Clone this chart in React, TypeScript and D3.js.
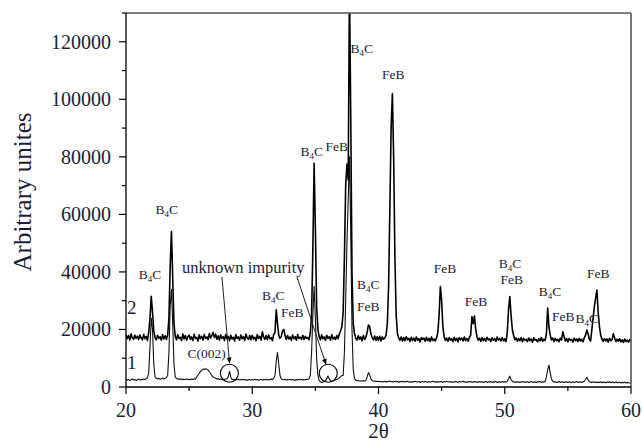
import React from "react";
import * as d3 from "d3";

// 2θ sampling of both traces
const X_START = 20;
const X_STEP = 0.1;

// Trace 2 (upper pattern), intensity in thousands, 20.0 .. 60.0 step 0.1
const curve2k: number[] = [
  18.2, 16.8, 17.9, 16.3, 18.5, 17.1, 16.6, 18.0, 16.9, 17.7,
  16.5, 18.1, 17.0, 16.4, 18.3, 16.8, 17.6, 16.2, 19.0, 24.0,
  31.5, 26.0, 19.5, 17.2, 16.4, 18.0, 16.9, 17.5, 16.3, 18.2,
  16.7, 17.8, 16.5, 18.0, 24.0, 42.0, 54.0, 38.0, 22.0, 17.6,
  16.4, 18.2, 16.9, 17.3, 16.1, 18.4, 16.7, 17.9, 16.3, 17.5,
  18.0, 16.6, 17.4, 16.2, 18.3, 16.9, 17.2, 16.0, 18.1, 16.8,
  17.6, 16.3, 18.2, 16.9, 17.4, 16.5, 18.6, 17.0, 17.9, 19.0,
  17.2, 18.4, 16.6, 17.8, 16.3, 18.1, 16.9, 17.5, 16.2, 18.3,
  16.8, 17.6, 16.1, 18.0, 16.7, 17.3, 16.0, 18.2, 16.9, 17.4,
  16.3, 18.1, 16.8, 17.5, 16.2, 18.4, 17.0, 16.6, 17.9, 16.4,
  18.0, 16.7, 17.3, 16.1, 18.2, 16.9, 17.6, 16.3, 19.2, 17.4,
  16.6, 17.9, 16.4, 18.1, 16.8, 17.2, 16.1, 18.3, 19.0, 26.8,
  22.0, 18.0, 16.9, 17.6, 19.5, 20.0, 17.8, 16.5, 17.9, 16.7,
  17.4, 16.2, 18.1, 16.8, 17.5, 16.3, 18.2, 16.9, 17.3, 16.6,
  18.0, 16.5, 17.6, 16.9, 17.2, 16.4, 19.0, 25.0, 48.0, 77.8,
  55.0, 28.0, 20.0, 17.5, 16.4, 18.1, 16.8, 17.4, 16.2, 18.0,
  16.9, 17.5, 16.3, 18.2, 16.7, 17.3, 16.5, 17.9, 16.8, 18.5,
  19.5, 21.0, 26.0, 45.0, 70.0, 77.5, 72.0, 140.0, 95.0, 40.0,
  22.0, 18.5, 17.0, 16.3, 17.8, 16.6, 17.4, 16.1, 17.9, 16.5,
  17.3, 19.0, 21.5, 21.0, 18.5, 17.2, 16.4, 17.7, 16.2, 17.5,
  16.3, 17.6, 16.0, 17.4, 16.6, 17.1, 18.0, 22.0, 35.0, 62.0,
  90.0, 102.0, 80.0, 45.0, 25.0, 18.5, 17.0, 16.2, 17.4, 16.0,
  17.2, 16.1, 17.5, 16.4, 16.9, 15.8, 17.3, 16.2, 17.0, 15.9,
  17.4, 16.3, 16.8, 15.7, 17.2, 16.5, 17.0, 15.9, 17.3, 16.1,
  16.9, 15.8, 17.4, 16.2, 16.7, 16.0, 17.1, 19.0, 25.0, 34.9,
  30.0, 21.0, 17.5, 16.2, 17.0, 15.9, 17.2, 16.3, 16.8, 15.8,
  17.3, 16.1, 16.9, 15.7, 17.2, 16.4, 17.0, 16.0, 17.4, 16.2,
  16.8, 15.9, 17.3, 18.0, 24.5, 22.0, 24.7, 20.0, 17.5, 16.3,
  17.0, 15.8, 17.2, 16.1, 16.9, 15.9, 17.3, 16.4, 16.7, 15.8,
  17.1, 16.2, 16.8, 15.9, 17.4, 16.3, 16.9, 16.0, 17.2, 16.1,
  16.7, 15.8, 19.0, 27.0, 31.4, 25.0, 20.0, 18.0, 16.4, 17.1,
  15.9, 16.8, 16.1, 17.2, 15.7, 16.9, 16.2, 16.6, 15.8, 17.0,
  16.1, 16.7, 15.6, 17.1, 16.3, 16.5, 15.7, 16.9, 16.0, 17.2,
  15.9, 16.6, 16.2, 18.5, 27.4, 21.0, 18.0, 16.4, 17.0, 15.8,
  16.9, 16.1, 16.6, 15.7, 17.0, 16.3, 19.2, 17.5, 16.0, 16.8,
  15.7, 16.9, 16.2, 16.5, 15.6, 17.0, 16.1, 16.7, 15.8, 16.9,
  16.0, 16.6, 15.7, 17.1, 18.0, 19.8, 18.5, 16.6, 16.0, 20.0,
  24.0, 28.0, 31.0, 33.7, 26.0, 21.0, 18.0, 16.6, 15.9, 16.8,
  16.0, 16.7, 15.6, 16.9, 16.1, 16.5, 18.5, 17.0, 15.8, 16.6,
  15.9, 16.8, 15.7, 16.4, 15.5, 16.7, 15.8, 16.3, 15.6, 16.5,
  15.8,
];

// Trace 1 (lower pattern), intensity in thousands, 20.0 .. 60.0 step 0.1
const curve1k: number[] = [
  2.7, 2.4, 2.6, 2.3, 2.5, 2.8, 2.4, 2.6, 2.3, 2.5,
  2.7, 2.4, 2.6, 2.5, 2.8, 2.6, 2.9, 3.2, 5.0, 14.0,
  24.0, 20.0, 8.0, 3.5, 3.0, 2.8, 3.0, 2.7, 2.9, 3.1,
  2.8, 3.0, 3.3, 4.0, 12.0, 28.0, 34.0, 22.0, 8.0, 3.5,
  3.0, 2.7, 2.9, 2.6, 2.8, 2.5, 2.7, 2.6, 2.8, 2.6,
  2.7, 2.5, 2.8, 2.6, 2.9, 2.7, 3.5, 4.1, 4.8, 5.4,
  5.8, 6.1, 6.3, 6.2, 6.2, 5.9, 5.3, 4.7, 4.0, 3.5,
  3.2, 3.0, 2.8, 2.9, 2.6, 2.8, 2.5, 2.7, 2.6, 2.8,
  2.9, 3.6, 5.5, 3.4, 2.6, 2.7, 2.4, 2.6, 2.5, 2.7,
  2.4, 2.6, 2.5, 2.7, 2.4, 2.6, 2.3, 2.5, 2.6, 2.4,
  2.6, 2.4, 2.7, 2.5, 2.6, 2.3, 2.5, 2.7, 2.4, 2.6,
  2.5, 2.7, 2.4, 2.6, 2.5, 2.8, 2.6, 3.0, 4.0, 9.0,
  12.0, 8.0, 4.0, 2.8, 2.6, 2.5, 2.7, 2.4, 2.6, 2.5,
  2.7, 2.4, 2.6, 2.5, 2.3, 2.6, 2.4, 2.7, 2.5, 2.6,
  2.4, 2.6, 2.5, 2.7, 2.6, 2.9, 4.0, 12.0, 25.0, 35.0,
  24.0, 10.0, 4.0, 2.2, 1.8, 1.6, 1.7, 1.9, 2.2, 3.0,
  3.8, 2.8, 2.2, 2.0, 2.1, 2.3, 2.5, 2.7, 2.9, 3.2,
  3.6, 4.0, 4.0, 12.0, 30.0, 50.0, 65.0, 80.0, 55.0, 20.0,
  6.0, 3.0, 2.4, 2.2, 2.3, 2.1, 2.2, 2.0, 2.2, 2.1,
  2.3, 3.5, 5.0, 4.2, 2.8, 2.2, 2.0, 2.1, 1.9, 2.0,
  1.8, 2.0, 1.7, 1.9, 1.8, 2.0, 1.7, 1.9, 1.8, 2.1,
  1.8, 1.9, 1.7, 2.0, 1.8, 1.9, 1.6, 1.9, 1.8, 2.0,
  1.7, 1.9, 1.8, 2.0, 1.7, 1.8, 1.6, 1.9, 1.7, 2.0,
  1.8, 1.7, 1.9, 1.6, 1.8, 2.0, 1.7, 1.9, 1.8, 1.6,
  1.9, 1.7, 1.8, 2.0, 1.7, 1.9, 1.6, 1.8, 1.7, 1.9,
  1.8, 1.6, 1.9, 1.7, 2.0, 1.8, 1.7, 1.9, 1.6, 1.8,
  1.7, 1.9, 1.8, 1.6, 1.9, 1.7, 1.8, 2.0, 1.7, 1.8,
  1.6, 1.8, 1.9, 1.7, 1.8, 1.6, 1.9, 1.7, 1.8, 1.6,
  1.9, 1.7, 1.8, 1.6, 1.7, 1.9, 1.6, 1.8, 1.7, 1.9,
  1.6, 1.8, 1.7, 1.9, 1.6, 1.7, 1.8, 1.6, 1.9, 1.7,
  1.8, 1.7, 2.0, 2.8, 3.8, 2.6, 2.0, 1.7, 1.8, 1.6,
  1.8, 1.7, 1.6, 1.8, 1.7, 1.9, 1.6, 1.7, 1.8, 1.6,
  1.7, 1.9, 1.6, 1.8, 1.7, 1.6, 1.8, 1.7, 1.9, 1.6,
  1.8, 1.7, 2.0, 3.5, 6.0, 7.6, 5.0, 2.8, 2.0, 1.7,
  1.8, 1.6, 1.7, 1.9, 1.6, 1.8, 1.7, 1.6, 1.8, 1.7,
  1.6, 1.8, 1.7, 1.5, 1.8, 1.6, 1.7, 1.9, 1.6, 1.8,
  1.7, 1.6, 1.8, 2.0, 2.6, 3.4, 2.5, 1.9, 1.7, 1.6,
  1.8, 1.6, 1.7, 1.5, 1.7, 1.6, 1.8, 1.5, 1.7, 1.6,
  1.5, 1.7, 1.6, 1.8, 1.5, 1.7, 1.6, 1.5, 1.7, 1.6,
  1.5, 1.7, 1.4, 1.6, 1.5, 1.7, 1.4, 1.6, 1.5, 1.4,
  1.5,
];

const yMajorTicks = [0, 20000, 40000, 60000, 80000, 100000, 120000];
const yMinorTicks = [10000, 30000, 50000, 70000, 90000, 110000, 130000];
const xMajorTicks = [20, 30, 40, 50, 60];
const xMinorTicks = [25, 35, 45, 55];

// Phase labels: [2θ, intensity, phase]
const labelTheta = [21.9, 23.22, 31.67, 33.17, 34.71, 36.69, 38.67, 41.17, 39.19, 39.19, 45.27, 47.72, 50.42, 50.55, 53.58, 54.64, 56.49, 57.41];
const labelInt = [38960, 61570, 31650, 25840, 81840, 83580, 117810, 108520, 35480, 27930, 41290, 29670, 43030, 37220, 33150, 24450, 23900, 39550];
const labelPhase = ["B4C", "B4C", "B4C", "FeB", "B4C", "FeB", "B4C", "FeB", "B4C", "FeB", "FeB", "FeB", "B4C", "FeB", "B4C", "FeB", "B4C", "FeB"];

// Curve numbers
const curveNames = ["2", "1"];
const curveNameTheta = [20.45, 20.45];
const curveNameInt = [27370, 8240];

// Annotation circles (2θ, intensity)
const circleTheta = [28.19, 36.02];
const circleInt = [4770, 4770];

// Pointer lines: from (2θ, I) to (2θ, I)
const pointerFrom = [[27.6, 38260], [33.54, 38260]];
const pointerTo = [[28.2, 8400], [35.84, 7900]];

const W = 642;
const H = 442;
const left = 126, right = 631, top = 13, bottom = 387;
const TEXT = "#1c1c38";
const FONT = '"Liberation Serif", "Times New Roman", Times, serif';

export default function App() {
  const x = d3.scaleLinear().domain([20, 60]).range([left, right]);
  const y = d3.scaleLinear().domain([0, 130000]).range([bottom, top]);

  const line = d3
    .line<number>()
    .x((_, i) => x(X_START + i * X_STEP))
    .y((d) => y(d * 1000));

  const phaseText = (p: string) =>
    p === "B4C" ? (
      <>
        B<tspan fontSize={9} dy={3}>4</tspan>
        <tspan dy={-3}>C</tspan>
      </>
    ) : (
      p
    );

  return (
    <svg width={W} height={H} style={{ position: "absolute", left: 0, top: 0, background: "#fff", fontFamily: FONT }}>
      <style>{`text { font-family: ${FONT}; }`}</style>
      <defs>
        <clipPath id="plot">
          <rect x={left} y={top} width={right - left} height={bottom - top} />
        </clipPath>
        <marker id="arrow" viewBox="0 0 10 10" refX="9" refY="5" markerWidth="6" markerHeight="6" orient="auto">
          <path d="M0,1 L10,5 L0,9 z" fill="#000" />
        </marker>
      </defs>
      <rect x={0} y={0} width={W} height={H} fill="#fff" />

      <g clipPath="url(#plot)">
        <path d={line(curve1k) || ""} fill="none" stroke="#111" strokeWidth={1.1} strokeLinejoin="round" />
        <path d={line(curve2k) || ""} fill="none" stroke="#000" strokeWidth={1.6} strokeLinejoin="round" />
      </g>

      {/* frame */}
      <line x1={left} x2={right} y1={top} y2={top} stroke="#555" strokeWidth={1.6} />
      <line x1={right} x2={right} y1={top} y2={bottom} stroke="#555" strokeWidth={1.6} />
      <line x1={left} x2={left} y1={top} y2={bottom} stroke="#000" strokeWidth={1.3} />
      <line x1={left} x2={right} y1={bottom} y2={bottom} stroke="#000" strokeWidth={1.3} />

      {/* y ticks */}
      {yMajorTicks.map((t) => (
        <g key={"ym" + t}>
          <line x1={left - 7} x2={left} y1={y(t)} y2={y(t)} stroke="#000" strokeWidth={1.2} />
          <text x={111} y={y(t) + 7} textAnchor="end" fontSize={20} fill={TEXT}>
            {t}
          </text>
        </g>
      ))}
      {yMinorTicks.map((t) => (
        <line key={"yn" + t} x1={left - 4} x2={left} y1={y(t)} y2={y(t)} stroke="#000" strokeWidth={1.2} />
      ))}

      {/* x ticks */}
      {xMajorTicks.map((t) => (
        <g key={"xm" + t}>
          <line x1={x(t)} x2={x(t)} y1={bottom} y2={bottom + 7} stroke="#000" strokeWidth={1.2} />
          <text x={x(t)} y={417} textAnchor="middle" fontSize={20} fill={TEXT}>
            {t}
          </text>
        </g>
      ))}
      {xMinorTicks.map((t) => (
        <line key={"xn" + t} x1={x(t)} x2={x(t)} y1={bottom} y2={bottom + 4} stroke="#000" strokeWidth={1.2} />
      ))}

      {/* axis titles */}
      <text x={(left + right) / 2} y={438} textAnchor="middle" fontSize={21} fill={TEXT}>
        2θ
      </text>
      <text transform={`translate(31,192) rotate(-90)`} textAnchor="middle" fontSize={25} fill={TEXT}>
        Arbitrary unites
      </text>

      {/* phase labels */}
      {labelPhase.map((p, i) => (
        <text key={"lb" + i} x={x(labelTheta[i])} y={y(labelInt[i]) + 4.5} textAnchor="middle" fontSize={13.5} fill={TEXT}>
          {phaseText(p)}
        </text>
      ))}

      {/* curve names */}
      {curveNames.map((n, i) => (
        <text key={"cn" + n} x={x(curveNameTheta[i])} y={y(curveNameInt[i]) + 6} textAnchor="middle" fontSize={19} fill={TEXT}>
          {n}
        </text>
      ))}

      {/* circles */}
      {circleTheta.map((c, i) => (
        <circle key={"c" + i} cx={x(c)} cy={y(circleInt[i])} r={9} fill="none" stroke="#000" strokeWidth={1.1} />
      ))}

      {/* pointers */}
      {pointerFrom.map((f, i) => (
        <line
          key={"p" + i}
          x1={x(f[0])}
          y1={y(f[1])}
          x2={x(pointerTo[i][0])}
          y2={y(pointerTo[i][1])}
          stroke="#222"
          strokeWidth={1}
          markerEnd="url(#arrow)"
        />
      ))}

      <text x={x(29.29)} y={y(41290) + 5} textAnchor="middle" fontSize={16.5} fill={TEXT}>
        unknown impurity
      </text>
      <text x={x(26.39)} y={y(11720) + 5} textAnchor="middle" fontSize={13.5} fill={TEXT}>
        C(002)
      </text>
    </svg>
  );
}
